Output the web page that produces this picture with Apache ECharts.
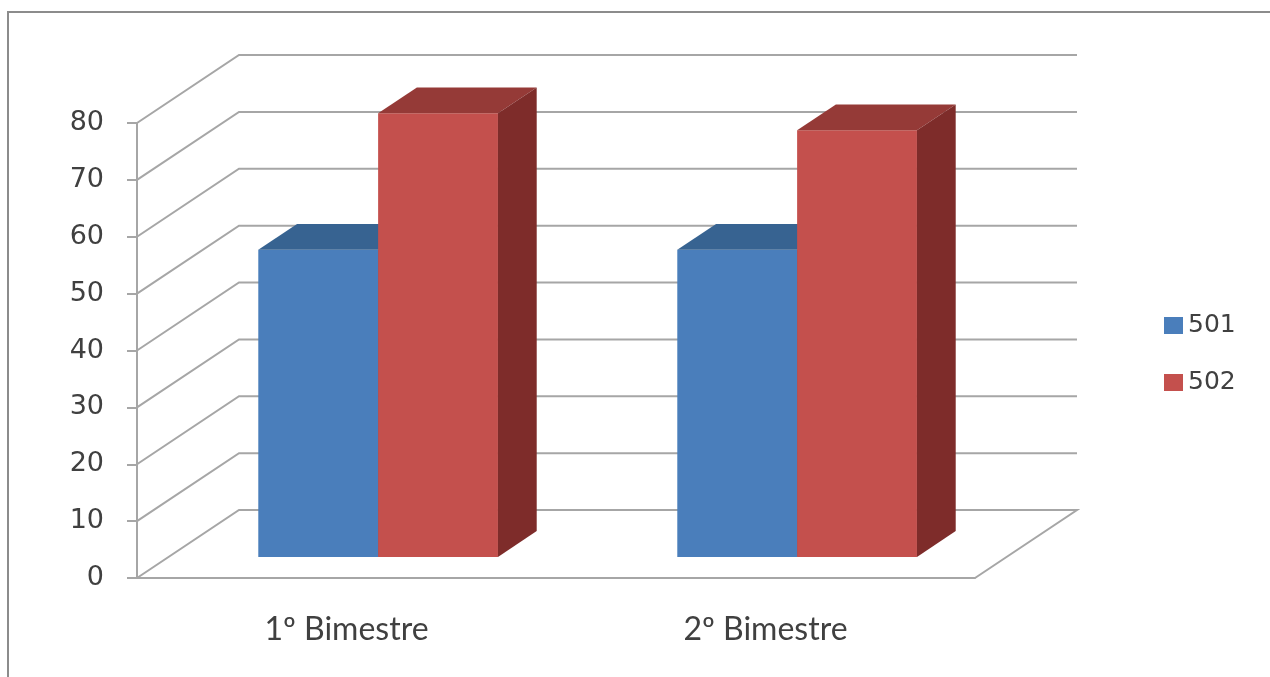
<!DOCTYPE html>
<html>
<head>
<meta charset="utf-8">
<script src="https://cdn.jsdelivr.net/npm/echarts@6/dist/echarts.min.js"></script>
<style>
html, body { margin: 0; padding: 0; background: #fff; }
#chart { width: 1270px; height: 677px; }
</style>
</head>
<body>
<div id="chart"></div>
<script>
var categories = ['1º Bimestre', '2º Bimestre'];
var seriesNames = ['501', '502'];
var values501 = [54, 54];
var values502 = [78, 75];
var yTicks = [0, 10, 20, 30, 40, 50, 60, 70, 80];

// 3d look: depth of the box and where the bars sit inside it
var DX = 102, DY = -68;
var F0 = 0.31, F1 = 0.69;
var BAR = 0.286; // bar width as part of the category band

var faces = {
    '501': { front: '#4A7EBB', top: '#376391', side: '#2C4F78' },
    '502': { front: '#C4504D', top: '#953A37', side: '#7E2C2A' }
};
var gridColor = '#A6A6A6';

function P(x, y, f) {
    return [x + f * DX, y + f * DY];
}

function frameItem(params, api) {
    var cs = params.coordSys;
    var v = api.value(1);
    var y = api.coord([0, v])[1];
    var x0 = cs.x, x1 = cs.x + cs.width;
    var pts = [[x0, y], P(x0, y, 1), P(x1, y, 1)];
    if (v === 0) pts.push([x1, y]);
    return {
        type: 'polyline',
        silent: true,
        shape: { points: pts },
        style: { stroke: gridColor, lineWidth: 2, fill: null }
    };
}

function barItem(name, side) {
    return function (params, api) {
        var i = api.value(0), v = api.value(1);
        var c = api.coord([i, v]);
        var base = api.coord([i, 0]);
        var w = api.size([1, 0])[0] * BAR;
        var xl = side < 0 ? c[0] - w : c[0];
        var xr = xl + w;
        var top = c[1], bot = base[1];
        var col = faces[name];
        return {
            type: 'group',
            children: [
                { type: 'polygon', shape: { points: [P(xl, top, F0), P(xr, top, F0), P(xr, bot, F0), P(xl, bot, F0)] }, style: { fill: col.front } },
                { type: 'polygon', shape: { points: [P(xl, top, F0), P(xr, top, F0), P(xr, top, F1), P(xl, top, F1)] }, style: { fill: col.top } },
                { type: 'polygon', shape: { points: [P(xr, top, F0), P(xr, top, F1), P(xr, bot, F1), P(xr, bot, F0)] }, style: { fill: col.side } }
            ]
        };
    };
}

var myChart = echarts.init(document.getElementById('chart'));
var option = {
    animation: false,
    backgroundColor: '#fff',
    graphic: [{
        type: 'polyline',
        silent: true,
        shape: { points: [[8, 720], [8, 12], [1320, 12]] },
        style: { fill: null, stroke: '#8C8C8C', lineWidth: 2 }
    }],
    grid: { left: 137, right: 295, top: 123, bottom: 99 },
    legend: {
        data: seriesNames,
        orient: 'vertical',
        left: 1159,
        top: 308,
        icon: 'rect',
        itemWidth: 19,
        itemHeight: 17,
        itemGap: 32,
        textStyle: { fontSize: 25, fontFamily: 'DejaVu Sans', color: '#404040' }
    },
    xAxis: {
        type: 'category',
        data: categories,
        axisLine: { lineStyle: { color: gridColor, width: 2 } },
        axisTick: { length: 10, lineStyle: { color: gridColor, width: 2 } },
        axisLabel: { fontSize: 32, fontFamily: 'Lato', color: '#404040', margin: 36 }
    },
    yAxis: {
        type: 'value',
        min: 0,
        max: 80,
        interval: 10,
        axisLine: { show: true, lineStyle: { color: gridColor, width: 2 } },
        axisTick: { show: true, length: 10, lineStyle: { color: gridColor, width: 2 } },
        axisLabel: { fontSize: 27, fontFamily: 'DejaVu Sans', color: '#404040', margin: 33 },
        splitLine: { show: false }
    },
    series: [
        {
            type: 'custom',
            name: 'frame',
            renderItem: frameItem,
            encode: { x: 0, y: 1 },
            data: yTicks.map(function (v) { return [0, v]; }),
            z: 1
        },
        {
            type: 'custom',
            name: '501',
            itemStyle: { color: faces['501'].front },
            renderItem: barItem('501', -1),
            encode: { x: 0, y: 1 },
            data: values501.map(function (v, i) { return [i, v]; }),
            z: 2
        },
        {
            type: 'custom',
            name: '502',
            itemStyle: { color: faces['502'].front },
            renderItem: barItem('502', 1),
            encode: { x: 0, y: 1 },
            data: values502.map(function (v, i) { return [i, v]; }),
            z: 3
        }
    ]
};
myChart.setOption(option);
</script>
</body>
</html>
